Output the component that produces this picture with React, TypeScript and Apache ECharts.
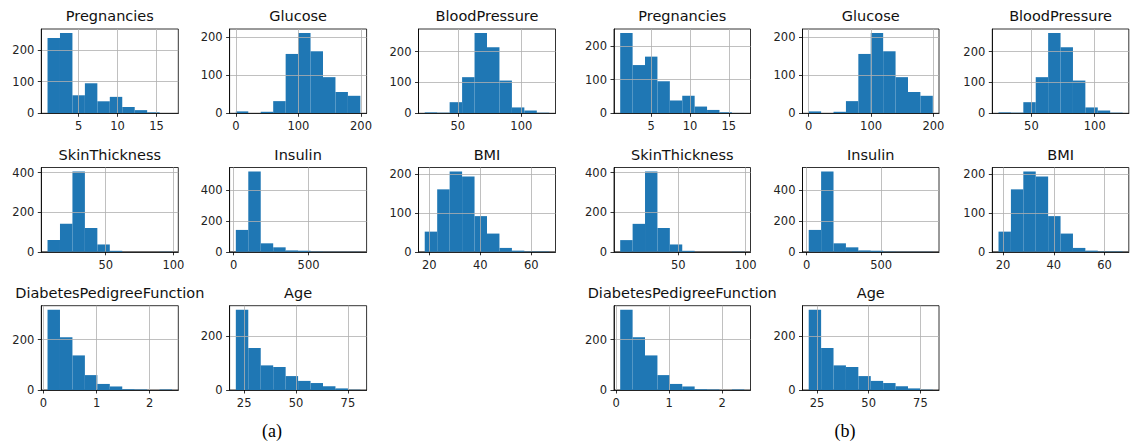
import React, { useEffect, useRef } from "react";
import * as echarts from "echarts";

// ---- data -------------------------------------------------------------
const featureNames = [
  "Pregnancies",
  "Glucose",
  "BloodPressure",
  "SkinThickness",
  "Insulin",
  "BMI",
  "DiabetesPedigreeFunction",
  "Age",
];

// value range of each feature (histogram spans min..max in 10 equal bins)
const featureMin = [1, 0, 24, 7, 14, 18.2, 0.078, 21];
const featureMax = [17, 199, 122, 99, 846, 67.1, 2.42, 81];

// bin counts (10 bins each)
const pregnanciesA = [238, 254, 57, 95, 38, 52, 20, 10, 3, 1];
const pregnanciesB = [238, 143, 168, 95, 38, 52, 20, 10, 3, 1];
const glucoseCounts = [5, 0, 4, 32, 156, 211, 163, 95, 56, 46];
const bloodPressureCounts = [3, 2, 36, 117, 260, 214, 106, 19, 9, 2];
const skinThicknessCounts = [59, 141, 405, 120, 37, 5, 0, 0, 0, 1];
const insulinCounts = [142, 521, 55, 29, 9, 7, 2, 1, 1, 1];
const bmiCounts = [52, 161, 207, 194, 92, 47, 10, 3, 1, 1];
const dpfCounts = [318, 209, 137, 59, 24, 14, 3, 2, 0, 2];
const ageCounts = [300, 157, 92, 86, 52, 34, 26, 14, 6, 1];

const panelACounts = [
  pregnanciesA, glucoseCounts, bloodPressureCounts, skinThicknessCounts,
  insulinCounts, bmiCounts, dpfCounts, ageCounts,
];
const panelBCounts = [
  pregnanciesB, glucoseCounts, bloodPressureCounts, skinThicknessCounts,
  insulinCounts, bmiCounts, dpfCounts, ageCounts,
];

// tick labels
const xTickValues = [
  [5, 10, 15],
  [0, 100, 200],
  [50, 100],
  [50, 100],
  [0, 500],
  [20, 40, 60],
  [0, 1, 2],
  [25, 50, 75],
];
const yTickValues = [
  [0, 100, 200],
  [0, 100, 200],
  [0, 100, 200],
  [0, 200, 400],
  [0, 200, 400],
  [0, 100, 200],
  [0, 200],
  [0, 200],
];

const panelCaptions = ["(a)", "(b)"];

// ---- layout -----------------------------------------------------------
const rowTops = [29, 167.5, 305.7];
const plotHeight = 84.3;
const panelColLefts = [
  [41.3, 229.6, 418.5],
  [614, 802.5, 992.3],
];
const panelPlotWidth = [137, 136.5];
const captionPos = [
  [272, 431],
  [845, 431],
];

const BAR = "#1f77b4";
const AX = "#000000";
const GRID = "#b0b0b0";
const FONT = "DejaVu Sans";

function buildOption() {
  const grids: any[] = [];
  const xAxes: any[] = [];
  const yAxes: any[] = [];
  const series: any[] = [];
  const graphics: any[] = [];
  const panels = [panelACounts, panelBCounts];

  panels.forEach((panel, p) => {
    panel.forEach((counts, i) => {
      const row = Math.floor(i / 3);
      const col = i % 3;
      const left = panelColLefts[p][col];
      const top = rowTops[row];
      const width = panelPlotWidth[p];
      const idx = grids.length;
      const lo = featureMin[i];
      const hi = featureMax[i];
      const span = hi - lo;
      const binW = span / counts.length;
      const maxCount = Math.max(...counts);

      grids.push({
        left,
        top,
        width,
        height: plotHeight,
        show: true,
        borderColor: AX,
        borderWidth: 0.8,
        backgroundColor: "transparent",
        containLabel: false,
      });
      xAxes.push({
        gridIndex: idx,
        type: "value",
        min: lo - 0.05 * span,
        max: hi + 0.05 * span,
        z: 5,
        axisLine: { show: true, onZero: false, lineStyle: { color: AX, width: 0.8 } },
        axisTick: {
          show: true,
          length: 3.5,
          customValues: xTickValues[i],
          lineStyle: { color: AX, width: 0.8 },
        },
        axisLabel: {
          customValues: xTickValues[i],
          margin: 7,
          fontSize: 11.5,
          fontFamily: FONT,
          color: "#222",
        },
        splitLine: { show: true, lineStyle: { color: GRID, width: 0.8 } },
      });
      yAxes.push({
        gridIndex: idx,
        type: "value",
        min: 0,
        max: maxCount * 1.05,
        z: 5,
        axisLine: { show: true, onZero: false, lineStyle: { color: AX, width: 0.8 } },
        axisTick: {
          show: true,
          length: 3.5,
          customValues: yTickValues[i],
          lineStyle: { color: AX, width: 0.8 },
        },
        axisLabel: {
          customValues: yTickValues[i],
          margin: 7,
          fontSize: 11.5,
          fontFamily: FONT,
          color: "#222",
        },
        splitLine: { show: true, lineStyle: { color: GRID, width: 0.8 } },
      });
      series.push({
        type: "custom",
        xAxisIndex: idx,
        yAxisIndex: idx,
        z: 2,
        encode: { x: [0, 1], y: 2 },
        data: counts.map((c, k) => [lo + k * binW, lo + (k + 1) * binW, c]),
        renderItem: (_params: any, api: any) => {
          const x0 = api.value(0);
          const x1 = api.value(1);
          const c = api.value(2);
          const p0 = api.coord([x0, c]);
          const p1 = api.coord([x1, 0]);
          return {
            type: "rect",
            shape: { x: p0[0], y: p0[1], width: p1[0] - p0[0], height: p1[1] - p0[1] },
            style: { fill: BAR },
          };
        },
      });
      graphics.push({
        type: "text",
        x: left + width / 2,
        y: top - 13,
        style: {
          text: featureNames[i],
          font: `14.5px ${FONT}`,
          fill: "#111",
          align: "center",
          verticalAlign: "middle",
          textAlign: "center",
          textVerticalAlign: "middle",
        },
      });
    });
    graphics.push({
      type: "text",
      x: captionPos[p][0],
      y: captionPos[p][1],
      style: {
        text: panelCaptions[p],
        font: `18px "Liberation Serif"`,
        fill: "#000",
        align: "center",
        verticalAlign: "middle",
        textAlign: "center",
        textVerticalAlign: "middle",
      },
    });
  });

  return {
    animation: false,
    backgroundColor: "#ffffff",
    grid: grids,
    xAxis: xAxes,
    yAxis: yAxes,
    series,
    graphic: graphics,
  };
}

export default function App() {
  const ref = useRef<HTMLDivElement>(null);
  useEffect(() => {
    if (!ref.current) return;
    const chart = echarts.init(ref.current, undefined, { renderer: "svg" });
    chart.setOption(buildOption() as any);
    return () => chart.dispose();
  }, []);
  return (
    <div
      ref={ref}
      style={{ position: "absolute", left: 0, top: 0, width: 1133, height: 446, background: "#fff" }}
    />
  );
}
